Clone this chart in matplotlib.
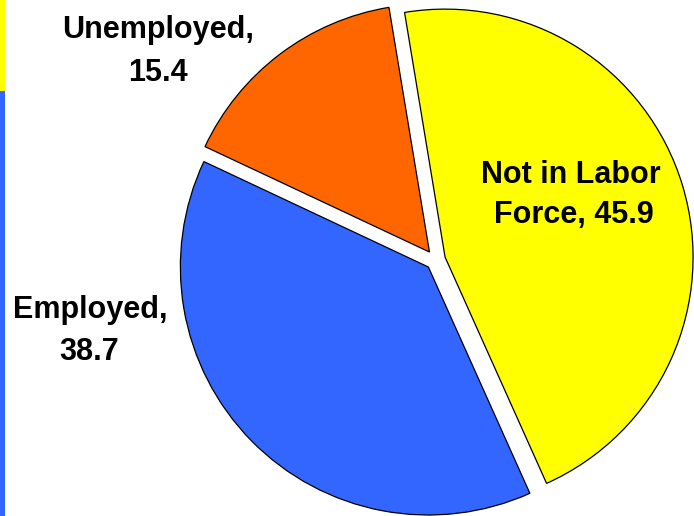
import matplotlib
matplotlib.use('Agg')
import matplotlib.pyplot as plt

# Population shares (percent)
labels = ['Not in Labor Force', 'Employed', 'Unemployed']
shares = [45.9, 38.7, 15.4]
colors = ['#FFFF00', '#3366FF', '#FF6600']

W, H = 694, 516
fig = plt.figure(figsize=(W / 100, H / 100), dpi=100)
ax = fig.add_axes([0, 0, 1, 1])

# slide-style colour strip down the left edge
ax.axvspan(0, 5, ymin=0, ymax=425 / H, color='#3366FF', lw=0)
ax.axvspan(0, 5, ymin=425 / H, ymax=1, color='#FFFF00', lw=0)

# explode offsets are in data units here (pixels), not fractions
ax.pie(shares, colors=colors, center=(435.5, 256), radius=248,
       startangle=99.4, counterclock=False, explode=[10] * 3,
       wedgeprops=dict(edgecolor='black', linewidth=0.9), frame=True)
ax.set_xlim(0, W)
ax.set_ylim(0, H)
ax.set_aspect('equal')
ax.axis('off')

font = dict(family='Liberation Sans', fontweight='bold', fontsize=22,
            ha='center', va='baseline', color='black')
ax.text(158, H - 38, 'Unemployed,', **font)
ax.text(158, H - 81, '15.4', **font)
ax.text(90, H - 318, 'Employed,', **font)
ax.text(89, H - 360, '38.7', **font)
ax.text(571, H - 183, 'Not in Labor', **font)
ax.text(574, H - 223, 'Force, 45.9', **font)

fig.savefig('out.png', dpi=100)
plt.close(fig)
